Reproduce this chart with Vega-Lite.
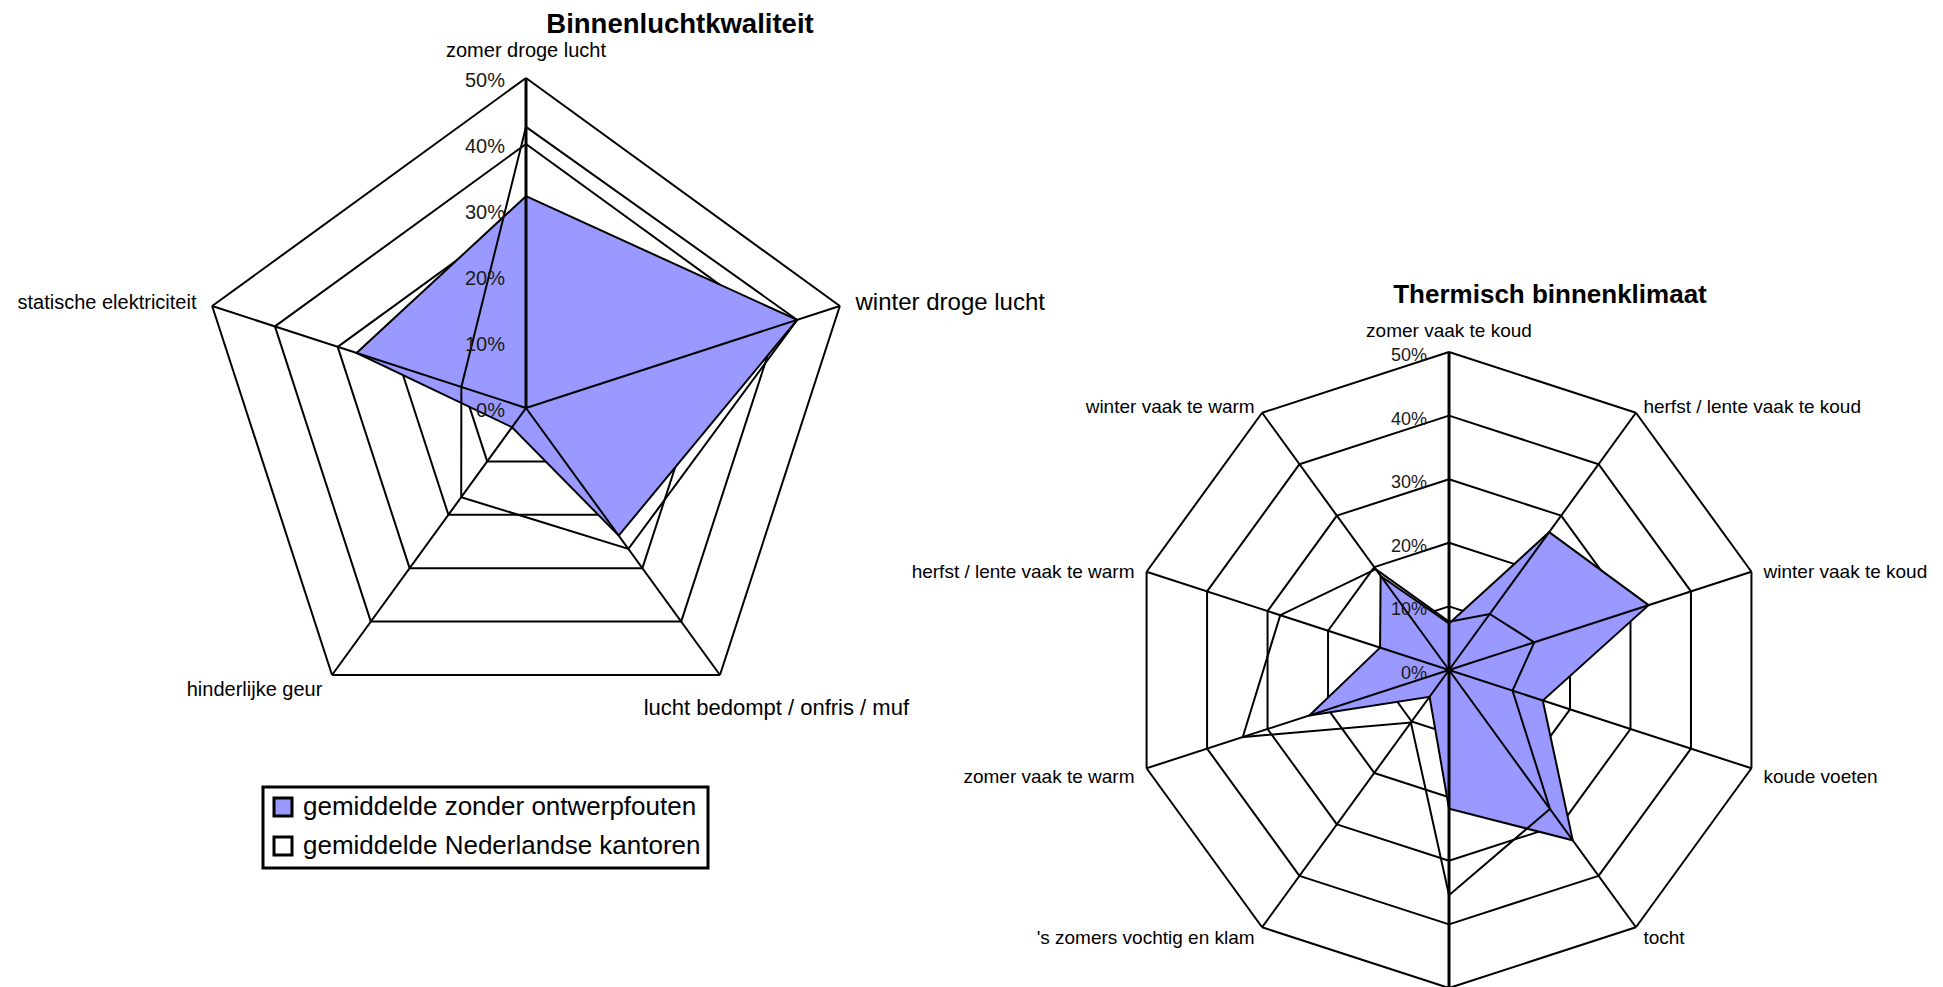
{
  "$schema": "https://vega.github.io/schema/vega-lite/v6.json",
  "background": "white",
  "padding": 0,
  "spacing": 0,
  "bounds": "flush",
  "config": {
    "view": {"stroke": null},
    "font": "Liberation Sans",
    "title": {"font": "Liberation Sans", "fontWeight": "bold", "color": "black", "offset": 0, "anchor": "middle", "frame": "group"},
    "legend": {"strokeWidth": 3}
  },
  "datasets": {
    "niveaus": [
      {"niveau": 0}, {"niveau": 10}, {"niveau": 20}, {"niveau": 30}, {"niveau": 40}, {"niveau": 50}
    ],
    "categorieen1": [
      {"idx": 0, "categorie": "zomer droge lucht", "ringen": [10, 20, 30, 40, 50]},
      {"idx": 1, "categorie": "winter droge lucht", "ringen": [10, 20, 30, 40, 50]},
      {"idx": 2, "categorie": "lucht bedompt / onfris / muf", "ringen": [10, 20, 30, 40, 50]},
      {"idx": 3, "categorie": "hinderlijke geur", "ringen": [10, 20, 30, 40, 50]},
      {"idx": 4, "categorie": "statische elektriciteit", "ringen": [10, 20, 30, 40, 50]}
    ],
    "waarden1": [
      {"reeks": "gemiddelde zonder ontwerpfouten", "idx": 0, "categorie": "zomer droge lucht", "waarde": 32.1},
      {"reeks": "gemiddelde zonder ontwerpfouten", "idx": 1, "categorie": "winter droge lucht", "waarde": 43.2},
      {"reeks": "gemiddelde zonder ontwerpfouten", "idx": 2, "categorie": "lucht bedompt / onfris / muf", "waarde": 23.9},
      {"reeks": "gemiddelde zonder ontwerpfouten", "idx": 3, "categorie": "hinderlijke geur", "waarde": 3.6},
      {"reeks": "gemiddelde zonder ontwerpfouten", "idx": 4, "categorie": "statische elektriciteit", "waarde": 27.0},
      {"reeks": "gemiddelde Nederlandse kantoren", "idx": 0, "categorie": "zomer droge lucht", "waarde": 42.6},
      {"reeks": "gemiddelde Nederlandse kantoren", "idx": 1, "categorie": "winter droge lucht", "waarde": 43.2},
      {"reeks": "gemiddelde Nederlandse kantoren", "idx": 2, "categorie": "lucht bedompt / onfris / muf", "waarde": 26.4},
      {"reeks": "gemiddelde Nederlandse kantoren", "idx": 3, "categorie": "hinderlijke geur", "waarde": 16.7},
      {"reeks": "gemiddelde Nederlandse kantoren", "idx": 4, "categorie": "statische elektriciteit", "waarde": 10.3}
    ],
    "categorieen2": [
      {"idx": 0, "categorie": "zomer vaak te koud", "ringen": [10, 20, 30, 40, 50]},
      {"idx": 1, "categorie": "herfst / lente vaak te koud", "ringen": [10, 20, 30, 40, 50]},
      {"idx": 2, "categorie": "winter vaak te koud", "ringen": [10, 20, 30, 40, 50]},
      {"idx": 3, "categorie": "koude voeten", "ringen": [10, 20, 30, 40, 50]},
      {"idx": 4, "categorie": "tocht", "ringen": [10, 20, 30, 40, 50]},
      {"idx": 5, "categorie": "", "ringen": [10, 20, 30, 40, 50]},
      {"idx": 6, "categorie": "'s zomers vochtig en klam", "ringen": [10, 20, 30, 40, 50]},
      {"idx": 7, "categorie": "zomer vaak te warm", "ringen": [10, 20, 30, 40, 50]},
      {"idx": 8, "categorie": "herfst / lente vaak te warm", "ringen": [10, 20, 30, 40, 50]},
      {"idx": 9, "categorie": "winter vaak te warm", "ringen": [10, 20, 30, 40, 50]}
    ],
    "waarden2": [
      {"reeks": "gemiddelde zonder ontwerpfouten", "idx": 0, "waarde": 7.3},
      {"reeks": "gemiddelde zonder ontwerpfouten", "idx": 1, "waarde": 26.8},
      {"reeks": "gemiddelde zonder ontwerpfouten", "idx": 2, "waarde": 33.0},
      {"reeks": "gemiddelde zonder ontwerpfouten", "idx": 3, "waarde": 15.5},
      {"reeks": "gemiddelde zonder ontwerpfouten", "idx": 4, "waarde": 33.1},
      {"reeks": "gemiddelde zonder ontwerpfouten", "idx": 5, "waarde": 21.8},
      {"reeks": "gemiddelde zonder ontwerpfouten", "idx": 6, "waarde": 5.2},
      {"reeks": "gemiddelde zonder ontwerpfouten", "idx": 7, "waarde": 23.1},
      {"reeks": "gemiddelde zonder ontwerpfouten", "idx": 8, "waarde": 11.4},
      {"reeks": "gemiddelde zonder ontwerpfouten", "idx": 9, "waarde": 18.3},
      {"reeks": "gemiddelde Nederlandse kantoren", "idx": 0, "waarde": 7.6},
      {"reeks": "gemiddelde Nederlandse kantoren", "idx": 1, "waarde": 10.9},
      {"reeks": "gemiddelde Nederlandse kantoren", "idx": 2, "waarde": 14.1},
      {"reeks": "gemiddelde Nederlandse kantoren", "idx": 3, "waarde": 10.5},
      {"reeks": "gemiddelde Nederlandse kantoren", "idx": 4, "waarde": 27.0},
      {"reeks": "gemiddelde Nederlandse kantoren", "idx": 5, "waarde": 35.4},
      {"reeks": "gemiddelde Nederlandse kantoren", "idx": 6, "waarde": 10.2},
      {"reeks": "gemiddelde Nederlandse kantoren", "idx": 7, "waarde": 34.1},
      {"reeks": "gemiddelde Nederlandse kantoren", "idx": 8, "waarde": 27.9},
      {"reeks": "gemiddelde Nederlandse kantoren", "idx": 9, "waarde": 19.6}
    ]
  },
  "hconcat": [
    {
      "width": 1000,
      "height": 987,
      "title": {"text": "Binnenluchtkwaliteit", "fontSize": 27.5, "dx": 180, "dy": 42},
      "layer": [
        {
          "data": {"name": "categorieen1"},
          "transform": [
            {"flatten": ["ringen"], "as": ["niveau"]},
            {"calculate": "2 * PI * datum.idx / 5", "as": "hoek"},
            {"calculate": "datum.niveau * sin(datum.hoek)", "as": "ax"},
            {"calculate": "datum.niveau * cos(datum.hoek)", "as": "ay"},
            {"calculate": "datum.niveau * sin(datum.hoek + 2 * PI / 5)", "as": "bx"},
            {"calculate": "datum.niveau * cos(datum.hoek + 2 * PI / 5)", "as": "by"}
          ],
          "mark": {"type": "rule", "color": "black", "strokeWidth": 2},
          "encoding": {
            "x": {"field": "ax", "type": "quantitative", "scale": {"domain": [-79.7, 71.82], "nice": false, "zero": false}, "axis": null},
            "y": {"field": "ay", "type": "quantitative", "scale": {"domain": [-87.73, 61.82], "nice": false, "zero": false}, "axis": null},
            "x2": {"field": "bx"},
            "y2": {"field": "by"}
          }
        },
        {
          "data": {"name": "waarden1"},
          "transform": [
            {"filter": "datum.reeks === 'gemiddelde zonder ontwerpfouten'"},
            {"calculate": "2 * PI * datum.idx / 5", "as": "hoek"},
            {"calculate": "datum.waarde * sin(datum.hoek)", "as": "px"},
            {"calculate": "datum.waarde * cos(datum.hoek)", "as": "py"}
          ],
          "mark": {"type": "line", "interpolate": "linear-closed", "stroke": "black", "strokeWidth": 2},
          "encoding": {
            "x": {"field": "px", "type": "quantitative", "scale": {"domain": [-79.7, 71.82], "nice": false, "zero": false}, "axis": null},
            "y": {"field": "py", "type": "quantitative", "scale": {"domain": [-87.73, 61.82], "nice": false, "zero": false}, "axis": null},
            "order": {"field": "idx", "type": "quantitative"},
            "fill": {
              "field": "reeks",
              "type": "nominal",
              "scale": {"domain": ["gemiddelde zonder ontwerpfouten", "gemiddelde Nederlandse kantoren"], "range": ["#9999ff", "#ffffff"]},
              "legend": {
                "orient": "none",
                "legendX": 263,
                "legendY": 787,
                "title": null,
                "symbolType": "square",
                "symbolSize": 324,
                "symbolStrokeColor": "black",
                "symbolStrokeWidth": 3,
                "symbolFillColor": "white",
                "labelFont": "Liberation Sans",
                "labelFontSize": 26,
                "labelColor": "black",
                "labelLimit": 0,
                "labelOffset": 7,
                "rowPadding": 9,
                "padding": 7,
                "strokeColor": "black",
                "fillColor": "white"
              }
            }
          }
        },
        {
          "data": {"name": "waarden1"},
          "transform": [
            {"filter": "datum.reeks === 'gemiddelde Nederlandse kantoren'"},
            {"calculate": "2 * PI * datum.idx / 5", "as": "hoek"},
            {"calculate": "datum.waarde * sin(datum.hoek)", "as": "px"},
            {"calculate": "datum.waarde * cos(datum.hoek)", "as": "py"}
          ],
          "mark": {"type": "line", "interpolate": "linear-closed", "stroke": "black", "strokeWidth": 2},
          "encoding": {
            "x": {"field": "px", "type": "quantitative", "scale": {"domain": [-79.7, 71.82], "nice": false, "zero": false}, "axis": null},
            "y": {"field": "py", "type": "quantitative", "scale": {"domain": [-87.73, 61.82], "nice": false, "zero": false}, "axis": null},
            "order": {"field": "idx", "type": "quantitative"}
          }
        },
        {
          "data": {"name": "categorieen1"},
          "transform": [
            {"calculate": "2 * PI * datum.idx / 5", "as": "hoek"},
            {"calculate": "50 * sin(datum.hoek)", "as": "ex"},
            {"calculate": "50 * cos(datum.hoek)", "as": "ey"},
            {"calculate": "0", "as": "midden"}
          ],
          "mark": {"type": "rule", "color": "black"},
          "encoding": {
            "x": {"field": "midden", "type": "quantitative", "scale": {"domain": [-79.7, 71.82], "nice": false, "zero": false}, "axis": null},
            "y": {"field": "midden", "type": "quantitative", "scale": {"domain": [-87.73, 61.82], "nice": false, "zero": false}, "axis": null},
            "x2": {"field": "ex"},
            "y2": {"field": "ey"},
            "strokeWidth": {"condition": {"test": "datum.idx === 0", "value": 3}, "value": 2}
          }
        },
        {
          "data": {"name": "niveaus"},
          "transform": [
            {"calculate": "datum.niveau + '%'", "as": "tekst"},
            {"calculate": "0", "as": "midden"}
          ],
          "mark": {"type": "text", "align": "right", "baseline": "middle", "dx": -21, "dy": 3, "fontSize": 20, "color": "#1a1a1a"},
          "encoding": {
            "x": {"field": "midden", "type": "quantitative", "scale": {"domain": [-79.7, 71.82], "nice": false, "zero": false}, "axis": null},
            "y": {"field": "niveau", "type": "quantitative", "scale": {"domain": [-87.73, 61.82], "nice": false, "zero": false}, "axis": null},
            "text": {"field": "tekst", "type": "nominal"}
          }
        },
        {
          "data": {"name": "categorieen1"},
          "transform": [
            {"filter": "datum.idx === 0"},
            {"calculate": "2 * PI * datum.idx / 5", "as": "hoek"},
            {"calculate": "52.5 * sin(datum.hoek)", "as": "lx"},
            {"calculate": "52.5 * cos(datum.hoek)", "as": "ly"}
          ],
          "mark": {"type": "text", "align": "center", "baseline": "middle", "dy": -10.5, "fontSize": 20, "color": "black"},
          "encoding": {
            "x": {"field": "lx", "type": "quantitative", "scale": {"domain": [-79.7, 71.82], "nice": false, "zero": false}, "axis": null},
            "y": {"field": "ly", "type": "quantitative", "scale": {"domain": [-87.73, 61.82], "nice": false, "zero": false}, "axis": null},
            "text": {"field": "categorie", "type": "nominal"}
          }
        },
        {
          "data": {"name": "categorieen1"},
          "transform": [
            {"filter": "datum.idx === 3 || datum.idx === 4"},
            {"calculate": "2 * PI * datum.idx / 5", "as": "hoek"},
            {"calculate": "52.5 * sin(datum.hoek)", "as": "lx"},
            {"calculate": "52.5 * cos(datum.hoek)", "as": "ly"}
          ],
          "mark": {"type": "text", "align": "right", "baseline": "middle", "dy": 2, "fontSize": 20, "color": "black"},
          "encoding": {
            "x": {"field": "lx", "type": "quantitative", "scale": {"domain": [-79.7, 71.82], "nice": false, "zero": false}, "axis": null},
            "y": {"field": "ly", "type": "quantitative", "scale": {"domain": [-87.73, 61.82], "nice": false, "zero": false}, "axis": null},
            "text": {"field": "categorie", "type": "nominal"}
          }
        },
        {
          "data": {"name": "categorieen1"},
          "transform": [
            {"filter": "datum.idx === 1"},
            {"calculate": "2 * PI * datum.idx / 5", "as": "hoek"},
            {"calculate": "52.5 * sin(datum.hoek)", "as": "lx"},
            {"calculate": "52.5 * cos(datum.hoek)", "as": "ly"}
          ],
          "mark": {"type": "text", "align": "left", "baseline": "middle", "dy": 2, "fontSize": 24, "color": "black"},
          "encoding": {
            "x": {"field": "lx", "type": "quantitative", "scale": {"domain": [-79.7, 71.82], "nice": false, "zero": false}, "axis": null},
            "y": {"field": "ly", "type": "quantitative", "scale": {"domain": [-87.73, 61.82], "nice": false, "zero": false}, "axis": null},
            "text": {"field": "categorie", "type": "nominal"}
          }
        },
        {
          "data": {"name": "categorieen1"},
          "transform": [
            {"filter": "datum.idx === 2"},
            {"calculate": "2 * PI * datum.idx / 5", "as": "hoek"},
            {"calculate": "52.5 * sin(datum.hoek)", "as": "lx"},
            {"calculate": "52.5 * cos(datum.hoek)", "as": "ly"}
          ],
          "mark": {"type": "text", "align": "left", "baseline": "middle", "dx": -86, "dy": 20, "fontSize": 22, "color": "black"},
          "encoding": {
            "x": {"field": "lx", "type": "quantitative", "scale": {"domain": [-79.7, 71.82], "nice": false, "zero": false}, "axis": null},
            "y": {"field": "ly", "type": "quantitative", "scale": {"domain": [-87.73, 61.82], "nice": false, "zero": false}, "axis": null},
            "text": {"field": "categorie", "type": "nominal"}
          }
        }
      ]
    },
    {
      "width": 943,
      "height": 987,
      "title": {"text": "Thermisch binnenklimaat", "fontSize": 26, "dx": 78.5, "dy": 312},
      "layer": [
        {
          "data": {"name": "categorieen2"},
          "transform": [
            {"flatten": ["ringen"], "as": ["niveau"]},
            {"calculate": "2 * PI * datum.idx / 10", "as": "hoek"},
            {"calculate": "datum.niveau * sin(datum.hoek)", "as": "ax"},
            {"calculate": "datum.niveau * cos(datum.hoek)", "as": "ay"},
            {"calculate": "datum.niveau * sin(datum.hoek + 2 * PI / 10)", "as": "bx"},
            {"calculate": "datum.niveau * cos(datum.hoek + 2 * PI / 10)", "as": "by"}
          ],
          "mark": {"type": "rule", "color": "black", "strokeWidth": 2},
          "encoding": {
            "x": {"field": "ax", "type": "quantitative", "scale": {"domain": [-70.6, 77.67], "nice": false, "zero": false}, "axis": null},
            "y": {"field": "ay", "type": "quantitative", "scale": {"domain": [-49.84, 105.35], "nice": false, "zero": false}, "axis": null},
            "x2": {"field": "bx"},
            "y2": {"field": "by"}
          }
        },
        {
          "data": {"name": "waarden2"},
          "transform": [
            {"filter": "datum.reeks === 'gemiddelde zonder ontwerpfouten'"},
            {"calculate": "2 * PI * datum.idx / 10", "as": "hoek"},
            {"calculate": "datum.waarde * sin(datum.hoek)", "as": "px"},
            {"calculate": "datum.waarde * cos(datum.hoek)", "as": "py"}
          ],
          "mark": {"type": "line", "interpolate": "linear-closed", "stroke": "black", "strokeWidth": 2, "fill": "#9999ff"},
          "encoding": {
            "x": {"field": "px", "type": "quantitative", "scale": {"domain": [-70.6, 77.67], "nice": false, "zero": false}, "axis": null},
            "y": {"field": "py", "type": "quantitative", "scale": {"domain": [-49.84, 105.35], "nice": false, "zero": false}, "axis": null},
            "order": {"field": "idx", "type": "quantitative"}
          }
        },
        {
          "data": {"name": "waarden2"},
          "transform": [
            {"filter": "datum.reeks === 'gemiddelde Nederlandse kantoren'"},
            {"calculate": "2 * PI * datum.idx / 10", "as": "hoek"},
            {"calculate": "datum.waarde * sin(datum.hoek)", "as": "px"},
            {"calculate": "datum.waarde * cos(datum.hoek)", "as": "py"}
          ],
          "mark": {"type": "line", "interpolate": "linear-closed", "stroke": "black", "strokeWidth": 2},
          "encoding": {
            "x": {"field": "px", "type": "quantitative", "scale": {"domain": [-70.6, 77.67], "nice": false, "zero": false}, "axis": null},
            "y": {"field": "py", "type": "quantitative", "scale": {"domain": [-49.84, 105.35], "nice": false, "zero": false}, "axis": null},
            "order": {"field": "idx", "type": "quantitative"}
          }
        },
        {
          "data": {"name": "categorieen2"},
          "transform": [
            {"calculate": "2 * PI * datum.idx / 10", "as": "hoek"},
            {"calculate": "50 * sin(datum.hoek)", "as": "ex"},
            {"calculate": "50 * cos(datum.hoek)", "as": "ey"},
            {"calculate": "0", "as": "midden"}
          ],
          "mark": {"type": "rule", "color": "black"},
          "encoding": {
            "x": {"field": "midden", "type": "quantitative", "scale": {"domain": [-70.6, 77.67], "nice": false, "zero": false}, "axis": null},
            "y": {"field": "midden", "type": "quantitative", "scale": {"domain": [-49.84, 105.35], "nice": false, "zero": false}, "axis": null},
            "x2": {"field": "ex"},
            "y2": {"field": "ey"},
            "strokeWidth": {"condition": {"test": "datum.idx === 0 || datum.idx === 5", "value": 3}, "value": 2}
          }
        },
        {
          "data": {"name": "niveaus"},
          "transform": [
            {"calculate": "datum.niveau + '%'", "as": "tekst"},
            {"calculate": "0", "as": "midden"}
          ],
          "mark": {"type": "text", "align": "right", "baseline": "middle", "dx": -22, "dy": 4, "fontSize": 18, "color": "#1a1a1a"},
          "encoding": {
            "x": {"field": "midden", "type": "quantitative", "scale": {"domain": [-70.6, 77.67], "nice": false, "zero": false}, "axis": null},
            "y": {"field": "niveau", "type": "quantitative", "scale": {"domain": [-49.84, 105.35], "nice": false, "zero": false}, "axis": null},
            "text": {"field": "tekst", "type": "nominal"}
          }
        },
        {
          "data": {"name": "categorieen2"},
          "transform": [
            {"filter": "datum.idx === 0"},
            {"calculate": "2 * PI * datum.idx / 10", "as": "hoek"},
            {"calculate": "52 * sin(datum.hoek)", "as": "lx"},
            {"calculate": "52 * cos(datum.hoek)", "as": "ly"}
          ],
          "mark": {"type": "text", "align": "center", "baseline": "middle", "dy": -8, "fontSize": 19, "color": "black"},
          "encoding": {
            "x": {"field": "lx", "type": "quantitative", "scale": {"domain": [-70.6, 77.67], "nice": false, "zero": false}, "axis": null},
            "y": {"field": "ly", "type": "quantitative", "scale": {"domain": [-49.84, 105.35], "nice": false, "zero": false}, "axis": null},
            "text": {"field": "categorie", "type": "nominal"}
          }
        },
        {
          "data": {"name": "categorieen2"},
          "transform": [
            {"filter": "datum.idx >= 1 && datum.idx <= 3"},
            {"calculate": "2 * PI * datum.idx / 10", "as": "hoek"},
            {"calculate": "52 * sin(datum.hoek)", "as": "lx"},
            {"calculate": "52 * cos(datum.hoek)", "as": "ly"}
          ],
          "mark": {"type": "text", "align": "left", "baseline": "middle", "dy": 4.5, "fontSize": 19, "color": "black"},
          "encoding": {
            "x": {"field": "lx", "type": "quantitative", "scale": {"domain": [-70.6, 77.67], "nice": false, "zero": false}, "axis": null},
            "y": {"field": "ly", "type": "quantitative", "scale": {"domain": [-49.84, 105.35], "nice": false, "zero": false}, "axis": null},
            "text": {"field": "categorie", "type": "nominal"}
          }
        },
        {
          "data": {"name": "categorieen2"},
          "transform": [
            {"filter": "datum.idx === 4"},
            {"calculate": "2 * PI * datum.idx / 10", "as": "hoek"},
            {"calculate": "52 * sin(datum.hoek)", "as": "lx"},
            {"calculate": "52 * cos(datum.hoek)", "as": "ly"}
          ],
          "mark": {"type": "text", "align": "left", "baseline": "middle", "dy": 0, "fontSize": 19, "color": "black"},
          "encoding": {
            "x": {"field": "lx", "type": "quantitative", "scale": {"domain": [-70.6, 77.67], "nice": false, "zero": false}, "axis": null},
            "y": {"field": "ly", "type": "quantitative", "scale": {"domain": [-49.84, 105.35], "nice": false, "zero": false}, "axis": null},
            "text": {"field": "categorie", "type": "nominal"}
          }
        },
        {
          "data": {"name": "categorieen2"},
          "transform": [
            {"filter": "datum.idx >= 7"},
            {"calculate": "2 * PI * datum.idx / 10", "as": "hoek"},
            {"calculate": "52 * sin(datum.hoek)", "as": "lx"},
            {"calculate": "52 * cos(datum.hoek)", "as": "ly"}
          ],
          "mark": {"type": "text", "align": "right", "baseline": "middle", "dy": 4.5, "fontSize": 19, "color": "black"},
          "encoding": {
            "x": {"field": "lx", "type": "quantitative", "scale": {"domain": [-70.6, 77.67], "nice": false, "zero": false}, "axis": null},
            "y": {"field": "ly", "type": "quantitative", "scale": {"domain": [-49.84, 105.35], "nice": false, "zero": false}, "axis": null},
            "text": {"field": "categorie", "type": "nominal"}
          }
        },
        {
          "data": {"name": "categorieen2"},
          "transform": [
            {"filter": "datum.idx === 6"},
            {"calculate": "2 * PI * datum.idx / 10", "as": "hoek"},
            {"calculate": "52 * sin(datum.hoek)", "as": "lx"},
            {"calculate": "52 * cos(datum.hoek)", "as": "ly"}
          ],
          "mark": {"type": "text", "align": "right", "baseline": "middle", "dy": 0, "fontSize": 19, "color": "black"},
          "encoding": {
            "x": {"field": "lx", "type": "quantitative", "scale": {"domain": [-70.6, 77.67], "nice": false, "zero": false}, "axis": null},
            "y": {"field": "ly", "type": "quantitative", "scale": {"domain": [-49.84, 105.35], "nice": false, "zero": false}, "axis": null},
            "text": {"field": "categorie", "type": "nominal"}
          }
        }
      ]
    }
  ]
}
